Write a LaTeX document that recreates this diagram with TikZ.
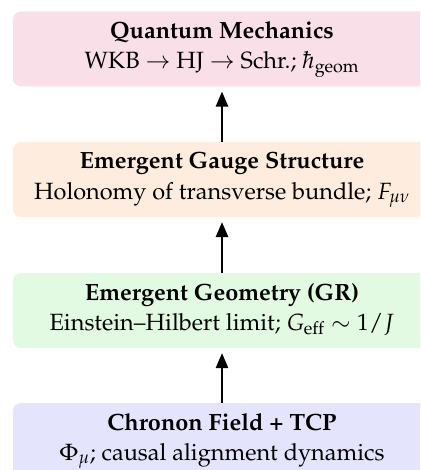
\documentclass[tikz,border=0pt]{standalone}
\usepackage[T1]{fontenc}
\usepackage{mathpazo}
\usetikzlibrary{arrows.meta}
\definecolor{pinkbox}{RGB}{249,223,231}
\definecolor{peachbox}{RGB}{254,236,222}
\definecolor{greenbox}{RGB}{225,250,225}
\definecolor{bluebox}{RGB}{228,229,252}
\tikzset{
  layer/.style={rectangle, rounded corners=8pt, minimum width=418pt, minimum height=75pt,
    inner sep=0pt},
  layertext/.style={anchor=base, inner sep=0pt, font=\fontsize{23.5}{28}\selectfont},
  uparrow/.style={-{Triangle[length=15pt,width=12.5pt]}, line width=1.4pt, black}
}
\begin{document}
\begin{tikzpicture}[x=1pt,y=-1pt]
\clip (0,0) rectangle (420,470);
\useasboundingbox (0,0) rectangle (420,470);
\node[layer, fill=pinkbox] (qm) at (222,49) {};
\node[layertext] (qm-title) at ([yshift=10.5pt]qm.center) {\textbf{Quantum Mechanics}};
\node[layertext] (qm-text) at ([yshift=-19.5pt]qm.center) {WKB $\rightarrow$ HJ $\rightarrow$ Schr.; $\hbar_{\mathrm{geom}}$};
\node[layer, fill=peachbox] (gauge) at (222,179.5) {};
\node[layertext] (gauge-title) at ([yshift=10.5pt]gauge.center) {\textbf{Emergent Gauge Structure}};
\node[layertext] (gauge-text) at ([yshift=-19.5pt]gauge.center) {Holonomy of transverse bundle; $F_{\mu\nu}$};
\node[layer, fill=greenbox] (geom) at (222,310.5) {};
\node[layertext] (geom-title) at ([yshift=10.5pt]geom.center) {\textbf{Emergent Geometry (GR)}};
\node[layertext] (geom-text) at ([yshift=-19.5pt]geom.center) {Einstein--Hilbert limit; $G_{\mathrm{eff}}\sim 1/J$};
\node[layer, fill=bluebox] (chronon) at (222,440.5) {};
\node[layertext] (chronon-title) at ([yshift=10.5pt]chronon.center) {\textbf{Chronon Field + TCP}};
\node[layertext] (chronon-text) at ([yshift=-19.5pt]chronon.center) {$\Phi_\mu$; causal alignment dynamics};
\draw[uparrow] (gauge.north) -- ([yshift=-5pt]qm.south);
\draw[uparrow] (geom.north) -- ([yshift=-5pt]gauge.south);
\draw[uparrow] (chronon.north) -- ([yshift=-5pt]geom.south);
\end{tikzpicture}
\end{document}
